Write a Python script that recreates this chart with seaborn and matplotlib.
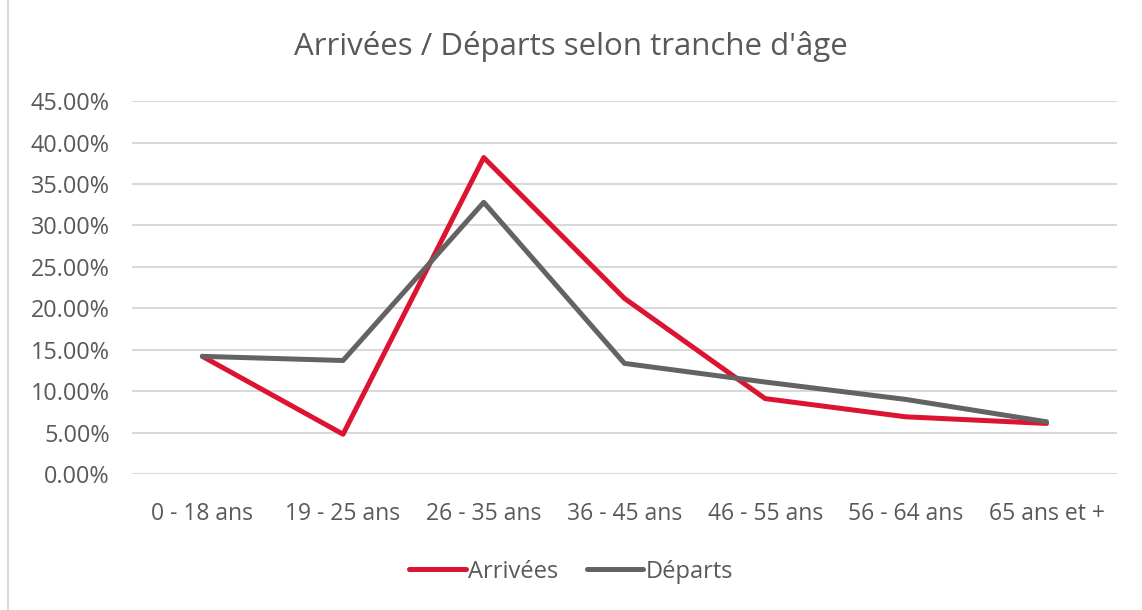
import pandas as pd
import matplotlib.pyplot as plt
import matplotlib.ticker as mticker
import seaborn as sns

# Data
categories = ["0 - 18 ans", "19 - 25 ans", "26 - 35 ans", "36 - 45 ans",
              "46 - 55 ans", "56 - 64 ans", "65 ans et +"]
arrivees = [14.2, 4.8, 38.2, 21.2, 9.1, 6.9, 6.1]
departs = [14.2, 13.7, 32.8, 13.35, 11.1, 9.0, 6.3]

df = pd.DataFrame({
    "tranche": categories * 2,
    "valeur": arrivees + departs,
    "serie": ["Arrivées"] * len(categories) + ["Départs"] * len(categories),
})

sns.set_theme(style="white")
plt.rcParams["font.family"] = ["Open Sans", "DejaVu Sans"]

text_color = "#595959"
palette = {"Arrivées": "#DC1431", "Départs": "#636363"}

fig = plt.figure(figsize=(11.42, 6.10), dpi=100)
ax = fig.add_axes([0.1156, 0.223, 0.8624, 0.611])

sns.lineplot(data=df, x="tranche", y="valeur", hue="serie", palette=palette,
             linewidth=3.6, sort=False, ax=ax, legend=False)

ax.set_xlim(-0.5, len(categories) - 0.5)
ax.set_ylim(0, 45)
ax.yaxis.set_major_locator(mticker.MultipleLocator(5))
ax.yaxis.set_major_formatter(mticker.FuncFormatter(lambda v, p: f"{v:.2f}%"))
ax.grid(axis="y", color="#d9d9d9", linewidth=1.5)
ax.set_axisbelow(True)
for s in ax.spines.values():
    s.set_visible(False)
ax.tick_params(axis="y", labelsize=16.8, colors=text_color, length=0, pad=16)
ax.tick_params(axis="x", labelsize=16.5, colors=text_color, length=0, pad=20)
ax.set_xlabel("")
ax.set_ylabel("")

fig.suptitle("Arrivées / Départs selon tranche d'âge", fontsize=22.5,
             color=text_color, y=0.95)

handles = [plt.Line2D([], [], color=palette[k], linewidth=3.6) for k in palette]
fig.legend(handles, list(palette.keys()), loc="center", bbox_to_anchor=(0.5, 0.063),
           ncol=2, frameon=False, fontsize=17, handlelength=2.4,
           handletextpad=0.1, columnspacing=1.2, labelcolor=text_color)

# left border of the chart container
fig.add_artist(plt.Line2D([8 / 1142, 8 / 1142], [0, 1], color="#d9d9d9",
                          linewidth=1.5, transform=fig.transFigure))

fig.savefig("out.png", dpi=100)
